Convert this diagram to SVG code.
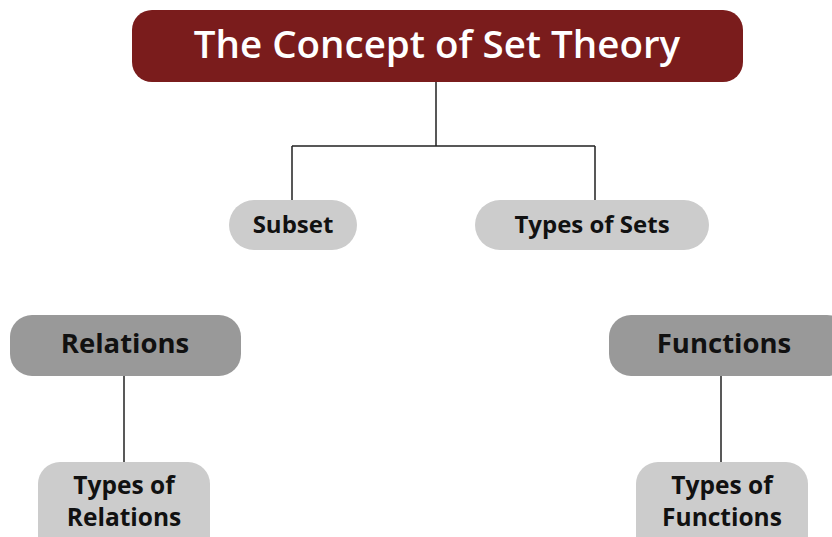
<svg xmlns="http://www.w3.org/2000/svg" width="832" height="537" viewBox="0 0 832 537">
<style>
text{font-family:"Open Sans","Liberation Sans",sans-serif;font-weight:700;text-anchor:middle;fill:#111}
.title{fill:#fff;font-weight:600;font-size:38.5px}
.light{fill:#cccccc}
.dark{fill:#999999}
.s{font-size:24px}
.t{font-size:24.5px}
.m{font-size:27.5px}
.c{stroke:#222;stroke-width:1.5;fill:none}
</style>
<rect width="832" height="537" fill="#fff"/>
<g id="connectors">
<path class="c" d="M436 82V146M292 146H595M292 146V200M595 146V200"/>
<path class="c" d="M124 376V462"/>
<path class="c" d="M721 376V462"/>
</g>
<g id="title"><rect x="132" y="10" width="611" height="72" rx="20" fill="#7a1c1c"/><text class="title" x="437" y="58">The Concept of Set Theory</text></g>
<g id="subset"><rect class="light" x="229" y="200" width="128" height="50" rx="25"/><text class="s" x="293" y="233">Subset</text></g>
<g id="types-of-sets"><rect class="light" x="475" y="200" width="234" height="50" rx="25"/><text class="s" x="592" y="233">Types of Sets</text></g>
<g id="relations"><rect class="dark" x="10" y="315" width="231" height="61" rx="22"/><text class="m" x="125" y="353">Relations</text></g>
<g id="functions"><rect class="dark" x="609" y="315" width="240" height="61" rx="22"/><text class="m" x="724" y="353">Functions</text></g>
<g id="types-of-relations"><rect class="light" x="38" y="462" width="172" height="100" rx="22"/><text class="t" x="124" y="494">Types of</text><text class="t" x="124" y="526">Relations</text></g>
<g id="types-of-functions"><rect class="light" x="636" y="462" width="172" height="100" rx="22"/><text class="t" x="722" y="494">Types of</text><text class="t" x="722" y="526">Functions</text></g>
</svg>
